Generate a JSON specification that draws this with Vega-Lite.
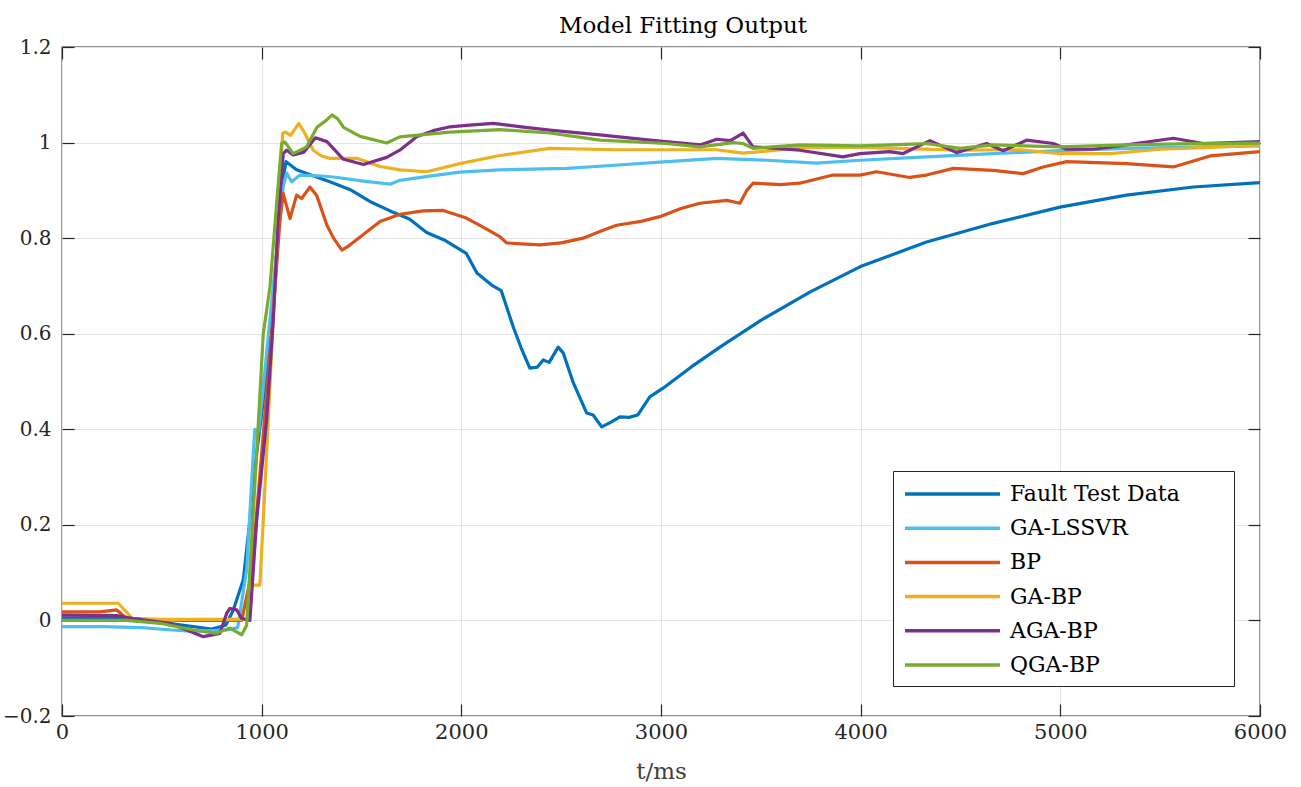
{
"$schema": "https://vega.github.io/schema/vega-lite/v6.json",
"width": 1198, "height": 669,
"autosize": {"type": "none"},
"padding": {"left": 62, "top": 47, "right": 41, "bottom": 71},
"background": "white",
"title": {"text": "Model Fitting Output", "font": "DejaVu Serif", "fontSize": 23, "fontWeight": "normal", "color": "#000000", "offset": 10, "dx": 22, "dy": 11},
"config": {"view": {"stroke": "#262626", "strokeWidth": 1.3}},
"datasets": {
"main": [
{"t":0,"s":"Fault Test Data","v":0.005},{"t":200,"s":"Fault Test Data","v":0.005},{"t":400,"s":"Fault Test Data","v":0.002},{"t":600,"s":"Fault Test Data","v":-0.01},{"t":750,"s":"Fault Test Data","v":-0.018},{"t":820,"s":"Fault Test Data","v":-0.01},{"t":858,"s":"Fault Test Data","v":0.022},{"t":908,"s":"Fault Test Data","v":0.085},{"t":941,"s":"Fault Test Data","v":0.21},{"t":975,"s":"Fault Test Data","v":0.35},{"t":1017,"s":"Fault Test Data","v":0.489},{"t":1050,"s":"Fault Test Data","v":0.629},{"t":1075,"s":"Fault Test Data","v":0.768},{"t":1100,"s":"Fault Test Data","v":0.908},{"t":1122,"s":"Fault Test Data","v":0.96},{"t":1175,"s":"Fault Test Data","v":0.943},{"t":1260,"s":"Fault Test Data","v":0.93},{"t":1342,"s":"Fault Test Data","v":0.918},{"t":1450,"s":"Fault Test Data","v":0.9},{"t":1550,"s":"Fault Test Data","v":0.875},{"t":1643,"s":"Fault Test Data","v":0.857},{"t":1740,"s":"Fault Test Data","v":0.84},{"t":1826,"s":"Fault Test Data","v":0.812},{"t":1920,"s":"Fault Test Data","v":0.795},{"t":2025,"s":"Fault Test Data","v":0.768},{"t":2078,"s":"Fault Test Data","v":0.727},{"t":2158,"s":"Fault Test Data","v":0.7},{"t":2200,"s":"Fault Test Data","v":0.69},{"t":2260,"s":"Fault Test Data","v":0.614},{"t":2300,"s":"Fault Test Data","v":0.57},{"t":2343,"s":"Fault Test Data","v":0.528},{"t":2380,"s":"Fault Test Data","v":0.53},{"t":2410,"s":"Fault Test Data","v":0.545},{"t":2440,"s":"Fault Test Data","v":0.54},{"t":2485,"s":"Fault Test Data","v":0.572},{"t":2510,"s":"Fault Test Data","v":0.56},{"t":2561,"s":"Fault Test Data","v":0.497},{"t":2628,"s":"Fault Test Data","v":0.434},{"t":2660,"s":"Fault Test Data","v":0.43},{"t":2703,"s":"Fault Test Data","v":0.405},{"t":2750,"s":"Fault Test Data","v":0.415},{"t":2794,"s":"Fault Test Data","v":0.426},{"t":2840,"s":"Fault Test Data","v":0.425},{"t":2884,"s":"Fault Test Data","v":0.43},{"t":2944,"s":"Fault Test Data","v":0.468},{"t":3010,"s":"Fault Test Data","v":0.486},{"t":3150,"s":"Fault Test Data","v":0.53},{"t":3295,"s":"Fault Test Data","v":0.572},{"t":3500,"s":"Fault Test Data","v":0.628},{"t":3750,"s":"Fault Test Data","v":0.688},{"t":3996,"s":"Fault Test Data","v":0.74},{"t":4330,"s":"Fault Test Data","v":0.792},{"t":4664,"s":"Fault Test Data","v":0.831},{"t":4998,"s":"Fault Test Data","v":0.865},{"t":5331,"s":"Fault Test Data","v":0.89},{"t":5666,"s":"Fault Test Data","v":0.907},{"t":6000,"s":"Fault Test Data","v":0.916},
{"t":0,"s":"GA-LSSVR","v":-0.013},{"t":200,"s":"GA-LSSVR","v":-0.013},{"t":400,"s":"GA-LSSVR","v":-0.015},{"t":550,"s":"GA-LSSVR","v":-0.02},{"t":658,"s":"GA-LSSVR","v":-0.023},{"t":825,"s":"GA-LSSVR","v":-0.02},{"t":880,"s":"GA-LSSVR","v":-0.015},{"t":925,"s":"GA-LSSVR","v":0.106},{"t":958,"s":"GA-LSSVR","v":0.35},{"t":966,"s":"GA-LSSVR","v":0.4},{"t":985,"s":"GA-LSSVR","v":0.395},{"t":1008,"s":"GA-LSSVR","v":0.489},{"t":1058,"s":"GA-LSSVR","v":0.699},{"t":1108,"s":"GA-LSSVR","v":0.908},{"t":1125,"s":"GA-LSSVR","v":0.936},{"t":1150,"s":"GA-LSSVR","v":0.918},{"t":1192,"s":"GA-LSSVR","v":0.932},{"t":1244,"s":"GA-LSSVR","v":0.931},{"t":1300,"s":"GA-LSSVR","v":0.93},{"t":1360,"s":"GA-LSSVR","v":0.928},{"t":1500,"s":"GA-LSSVR","v":0.92},{"t":1643,"s":"GA-LSSVR","v":0.913},{"t":1692,"s":"GA-LSSVR","v":0.921},{"t":1859,"s":"GA-LSSVR","v":0.931},{"t":1993,"s":"GA-LSSVR","v":0.938},{"t":2191,"s":"GA-LSSVR","v":0.943},{"t":2528,"s":"GA-LSSVR","v":0.946},{"t":2750,"s":"GA-LSSVR","v":0.952},{"t":2994,"s":"GA-LSSVR","v":0.959},{"t":3280,"s":"GA-LSSVR","v":0.967},{"t":3530,"s":"GA-LSSVR","v":0.963},{"t":3780,"s":"GA-LSSVR","v":0.957},{"t":3996,"s":"GA-LSSVR","v":0.963},{"t":4330,"s":"GA-LSSVR","v":0.97},{"t":4664,"s":"GA-LSSVR","v":0.977},{"t":4998,"s":"GA-LSSVR","v":0.983},{"t":5332,"s":"GA-LSSVR","v":0.988},{"t":6000,"s":"GA-LSSVR","v":0.993},
{"t":0,"s":"BP","v":0.018},{"t":190,"s":"BP","v":0.018},{"t":274,"s":"BP","v":0.022},{"t":324,"s":"BP","v":0.004},{"t":450,"s":"BP","v":0.002},{"t":600,"s":"BP","v":0.0},{"t":800,"s":"BP","v":0.0},{"t":900,"s":"BP","v":0.0},{"t":950,"s":"BP","v":0.1},{"t":1000,"s":"BP","v":0.35},{"t":1050,"s":"BP","v":0.6},{"t":1092,"s":"BP","v":0.84},{"t":1108,"s":"BP","v":0.893},{"t":1142,"s":"BP","v":0.841},{"t":1175,"s":"BP","v":0.89},{"t":1200,"s":"BP","v":0.883},{"t":1242,"s":"BP","v":0.907},{"t":1275,"s":"BP","v":0.89},{"t":1327,"s":"BP","v":0.827},{"t":1360,"s":"BP","v":0.8},{"t":1402,"s":"BP","v":0.775},{"t":1440,"s":"BP","v":0.785},{"t":1477,"s":"BP","v":0.797},{"t":1593,"s":"BP","v":0.835},{"t":1693,"s":"BP","v":0.85},{"t":1809,"s":"BP","v":0.857},{"t":1909,"s":"BP","v":0.858},{"t":2025,"s":"BP","v":0.842},{"t":2100,"s":"BP","v":0.825},{"t":2193,"s":"BP","v":0.803},{"t":2227,"s":"BP","v":0.79},{"t":2300,"s":"BP","v":0.788},{"t":2393,"s":"BP","v":0.786},{"t":2500,"s":"BP","v":0.79},{"t":2610,"s":"BP","v":0.8},{"t":2700,"s":"BP","v":0.815},{"t":2778,"s":"BP","v":0.827},{"t":2900,"s":"BP","v":0.835},{"t":2994,"s":"BP","v":0.845},{"t":3100,"s":"BP","v":0.862},{"t":3195,"s":"BP","v":0.873},{"t":3330,"s":"BP","v":0.879},{"t":3395,"s":"BP","v":0.873},{"t":3430,"s":"BP","v":0.9},{"t":3461,"s":"BP","v":0.915},{"t":3600,"s":"BP","v":0.912},{"t":3695,"s":"BP","v":0.915},{"t":3861,"s":"BP","v":0.932},{"t":3996,"s":"BP","v":0.932},{"t":4080,"s":"BP","v":0.939},{"t":4246,"s":"BP","v":0.927},{"t":4330,"s":"BP","v":0.932},{"t":4464,"s":"BP","v":0.946},{"t":4664,"s":"BP","v":0.942},{"t":4814,"s":"BP","v":0.935},{"t":4914,"s":"BP","v":0.949},{"t":5032,"s":"BP","v":0.96},{"t":5332,"s":"BP","v":0.956},{"t":5566,"s":"BP","v":0.949},{"t":5750,"s":"BP","v":0.972},{"t":6000,"s":"BP","v":0.981},
{"t":0,"s":"GA-BP","v":0.036},{"t":282,"s":"GA-BP","v":0.036},{"t":357,"s":"GA-BP","v":0.002},{"t":600,"s":"GA-BP","v":0.002},{"t":858,"s":"GA-BP","v":0.002},{"t":933,"s":"GA-BP","v":0.002},{"t":941,"s":"GA-BP","v":0.07},{"t":958,"s":"GA-BP","v":0.074},{"t":991,"s":"GA-BP","v":0.074},{"t":1008,"s":"GA-BP","v":0.21},{"t":1033,"s":"GA-BP","v":0.42},{"t":1058,"s":"GA-BP","v":0.629},{"t":1083,"s":"GA-BP","v":0.838},{"t":1105,"s":"GA-BP","v":1.019},{"t":1120,"s":"GA-BP","v":1.022},{"t":1145,"s":"GA-BP","v":1.015},{"t":1186,"s":"GA-BP","v":1.04},{"t":1217,"s":"GA-BP","v":1.019},{"t":1258,"s":"GA-BP","v":0.984},{"t":1300,"s":"GA-BP","v":0.972},{"t":1342,"s":"GA-BP","v":0.967},{"t":1477,"s":"GA-BP","v":0.967},{"t":1593,"s":"GA-BP","v":0.95},{"t":1693,"s":"GA-BP","v":0.943},{"t":1826,"s":"GA-BP","v":0.939},{"t":1993,"s":"GA-BP","v":0.956},{"t":2193,"s":"GA-BP","v":0.973},{"t":2443,"s":"GA-BP","v":0.988},{"t":2776,"s":"GA-BP","v":0.985},{"t":3277,"s":"GA-BP","v":0.985},{"t":3410,"s":"GA-BP","v":0.978},{"t":3530,"s":"GA-BP","v":0.982},{"t":3700,"s":"GA-BP","v":0.99},{"t":4000,"s":"GA-BP","v":0.99},{"t":4497,"s":"GA-BP","v":0.984},{"t":4800,"s":"GA-BP","v":0.985},{"t":5000,"s":"GA-BP","v":0.977},{"t":5250,"s":"GA-BP","v":0.977},{"t":5500,"s":"GA-BP","v":0.986},{"t":5750,"s":"GA-BP","v":0.99},{"t":6000,"s":"GA-BP","v":0.995},
{"t":0,"s":"AGA-BP","v":0.011},{"t":274,"s":"AGA-BP","v":0.01},{"t":357,"s":"AGA-BP","v":0.004},{"t":541,"s":"AGA-BP","v":-0.006},{"t":708,"s":"AGA-BP","v":-0.034},{"t":791,"s":"AGA-BP","v":-0.027},{"t":825,"s":"AGA-BP","v":0.015},{"t":841,"s":"AGA-BP","v":0.025},{"t":875,"s":"AGA-BP","v":0.022},{"t":900,"s":"AGA-BP","v":0.004},{"t":941,"s":"AGA-BP","v":0.0},{"t":975,"s":"AGA-BP","v":0.21},{"t":1025,"s":"AGA-BP","v":0.42},{"t":1058,"s":"AGA-BP","v":0.629},{"t":1083,"s":"AGA-BP","v":0.838},{"t":1108,"s":"AGA-BP","v":0.977},{"t":1125,"s":"AGA-BP","v":0.984},{"t":1158,"s":"AGA-BP","v":0.974},{"t":1211,"s":"AGA-BP","v":0.98},{"t":1269,"s":"AGA-BP","v":1.01},{"t":1327,"s":"AGA-BP","v":1.002},{"t":1410,"s":"AGA-BP","v":0.965},{"t":1510,"s":"AGA-BP","v":0.954},{"t":1626,"s":"AGA-BP","v":0.969},{"t":1692,"s":"AGA-BP","v":0.984},{"t":1776,"s":"AGA-BP","v":1.012},{"t":1859,"s":"AGA-BP","v":1.025},{"t":1943,"s":"AGA-BP","v":1.033},{"t":2025,"s":"AGA-BP","v":1.036},{"t":2160,"s":"AGA-BP","v":1.04},{"t":2300,"s":"AGA-BP","v":1.033},{"t":2443,"s":"AGA-BP","v":1.026},{"t":2694,"s":"AGA-BP","v":1.016},{"t":2944,"s":"AGA-BP","v":1.005},{"t":3195,"s":"AGA-BP","v":0.995},{"t":3280,"s":"AGA-BP","v":1.007},{"t":3347,"s":"AGA-BP","v":1.004},{"t":3411,"s":"AGA-BP","v":1.02},{"t":3461,"s":"AGA-BP","v":0.991},{"t":3695,"s":"AGA-BP","v":0.984},{"t":3911,"s":"AGA-BP","v":0.97},{"t":3996,"s":"AGA-BP","v":0.977},{"t":4146,"s":"AGA-BP","v":0.981},{"t":4213,"s":"AGA-BP","v":0.977},{"t":4347,"s":"AGA-BP","v":1.004},{"t":4480,"s":"AGA-BP","v":0.979},{"t":4631,"s":"AGA-BP","v":0.998},{"t":4714,"s":"AGA-BP","v":0.983},{"t":4831,"s":"AGA-BP","v":1.005},{"t":4965,"s":"AGA-BP","v":0.998},{"t":5032,"s":"AGA-BP","v":0.986},{"t":5165,"s":"AGA-BP","v":0.986},{"t":5332,"s":"AGA-BP","v":0.995},{"t":5566,"s":"AGA-BP","v":1.009},{"t":5716,"s":"AGA-BP","v":0.998},{"t":6000,"s":"AGA-BP","v":1.002},
{"t":0,"s":"QGA-BP","v":0.0},{"t":324,"s":"QGA-BP","v":0.0},{"t":491,"s":"QGA-BP","v":-0.006},{"t":658,"s":"QGA-BP","v":-0.02},{"t":774,"s":"QGA-BP","v":-0.027},{"t":841,"s":"QGA-BP","v":-0.016},{"t":900,"s":"QGA-BP","v":-0.03},{"t":925,"s":"QGA-BP","v":-0.01},{"t":950,"s":"QGA-BP","v":0.17},{"t":975,"s":"QGA-BP","v":0.35},{"t":1008,"s":"QGA-BP","v":0.6},{"t":1042,"s":"QGA-BP","v":0.699},{"t":1075,"s":"QGA-BP","v":0.873},{"t":1100,"s":"QGA-BP","v":0.998},{"t":1117,"s":"QGA-BP","v":1.001},{"t":1158,"s":"QGA-BP","v":0.977},{"t":1225,"s":"QGA-BP","v":0.991},{"t":1277,"s":"QGA-BP","v":1.032},{"t":1325,"s":"QGA-BP","v":1.047},{"t":1352,"s":"QGA-BP","v":1.058},{"t":1380,"s":"QGA-BP","v":1.05},{"t":1410,"s":"QGA-BP","v":1.032},{"t":1493,"s":"QGA-BP","v":1.013},{"t":1626,"s":"QGA-BP","v":0.999},{"t":1692,"s":"QGA-BP","v":1.012},{"t":1943,"s":"QGA-BP","v":1.022},{"t":2193,"s":"QGA-BP","v":1.027},{"t":2443,"s":"QGA-BP","v":1.02},{"t":2694,"s":"QGA-BP","v":1.005},{"t":3027,"s":"QGA-BP","v":0.998},{"t":3195,"s":"QGA-BP","v":0.991},{"t":3361,"s":"QGA-BP","v":1.0},{"t":3411,"s":"QGA-BP","v":0.998},{"t":3461,"s":"QGA-BP","v":0.988},{"t":3695,"s":"QGA-BP","v":0.995},{"t":3996,"s":"QGA-BP","v":0.993},{"t":4330,"s":"QGA-BP","v":0.998},{"t":4497,"s":"QGA-BP","v":0.988},{"t":4664,"s":"QGA-BP","v":0.995},{"t":4998,"s":"QGA-BP","v":0.991},{"t":5332,"s":"QGA-BP","v":0.995},{"t":5666,"s":"QGA-BP","v":0.998},{"t":6000,"s":"QGA-BP","v":0.999}
],
"anchor": [{"t": 0, "v": 0}]
},
"layer": [
{
"data": {"name": "main"},
"mark": {"type": "line", "strokeWidth": 3.2, "strokeJoin": "round", "strokeCap": "round", "clip": true},
"encoding": {
"x": {"field": "t", "type": "quantitative", "scale": {"domain": [0, 6000], "nice": false, "zero": false},
"axis": {"orient": "bottom", "values": [0,1000,2000,3000,4000,5000,6000], "format": "d", "grid": true, "gridColor": "#e4e4e4", "gridWidth": 1, "ticks": false, "domain": false, "labelFlush": false, "labelFont": "DejaVu Serif", "labelFontSize": 21, "labelColor": "#262626", "labelPadding": 5, "title": "t/ms", "titleFont": "DejaVu Serif", "titleFontSize": 23, "titleFontWeight": "normal", "titleColor": "#404040", "titlePadding": 18}},
"y": {"field": "v", "type": "quantitative", "scale": {"domain": [-0.2, 1.2], "nice": false, "zero": false},
"axis": {"orient": "left", "values": [-0.2,0,0.2,0.4,0.6,0.8,1,1.2], "format": "~g", "grid": true, "gridColor": "#e4e4e4", "gridWidth": 1, "ticks": false, "domain": false, "labelFlush": false, "labelFont": "DejaVu Serif", "labelFontSize": 20, "labelColor": "#262626", "labelPadding": 11, "title": null}},
"color": {"field": "s", "type": "nominal",
"scale": {"domain": ["Fault Test Data","GA-LSSVR","BP","GA-BP","AGA-BP","QGA-BP"], "range": ["#0072BD","#4DBEEE","#D95319","#EDB120","#7E2F8E","#77AC30"]},
"legend": {"orient": "none", "legendX": 831, "legendY": 424, "title": null, "padding": 10, "strokeColor": "#262626", "fillColor": "#ffffff", "labelFont": "DejaVu Serif", "labelFontSize": 22, "labelColor": "#000000", "symbolType": "M-1,0H7.636M27.36,0", "symbolSize": 484, "symbolStrokeWidth": 3.5, "labelOffset": 81, "rowPadding": 10.2, "labelLimit": 400}}
}
},
{
"data": {"name": "anchor"},
"mark": {"type": "point", "opacity": 0},
"encoding": {
"x": {"field": "t", "type": "quantitative", "axis": {"orient": "top", "values": [0,1000,2000,3000,4000,5000,6000], "labels": false, "ticks": true, "tickSize": -12, "tickColor": "#262626", "tickWidth": 1.2, "grid": false, "domain": false, "title": null}},
"y": {"field": "v", "type": "quantitative", "axis": {"orient": "right", "values": [-0.2,0,0.2,0.4,0.6,0.8,1,1.2], "labels": false, "ticks": true, "tickSize": -12, "tickColor": "#262626", "tickWidth": 1.2, "grid": false, "domain": false, "title": null}}
}
},
{
"data": {"name": "anchor"},
"mark": {"type": "point", "opacity": 0},
"encoding": {
"x": {"field": "t", "type": "quantitative", "axis": {"orient": "bottom", "values": [0,1000,2000,3000,4000,5000,6000], "labels": false, "ticks": true, "tickSize": -12, "tickColor": "#262626", "tickWidth": 1.2, "grid": false, "domain": false, "title": null}},
"y": {"field": "v", "type": "quantitative", "axis": {"orient": "left", "values": [-0.2,0,0.2,0.4,0.6,0.8,1,1.2], "labels": false, "ticks": true, "tickSize": -12, "tickColor": "#262626", "tickWidth": 1.2, "grid": false, "domain": false, "title": null}}
}
}
],
"resolve": {"axis": {"x": "independent", "y": "independent"}}
}
